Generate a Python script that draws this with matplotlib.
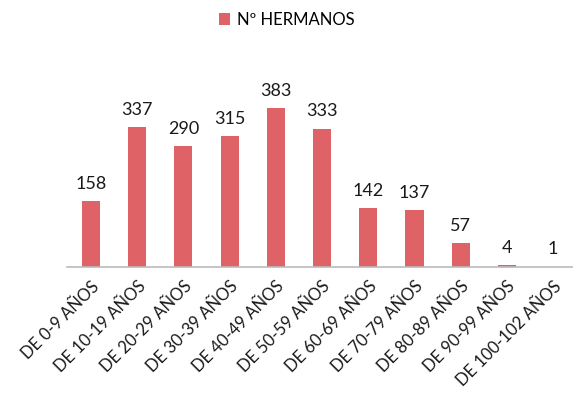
import matplotlib
matplotlib.use('Agg')
import matplotlib.pyplot as plt

categorias = ["DE 0-9 AÑOS", "DE 10-19 AÑOS", "DE 20-29 AÑOS", "DE 30-39 AÑOS",
              "DE 40-49 AÑOS", "DE 50-59 AÑOS", "DE 60-69 AÑOS", "DE 70-79 AÑOS",
              "DE 80-89 AÑOS", "DE 90-99 AÑOS", "DE 100-102 AÑOS"]
hermanos = [158, 337, 290, 315, 383, 333, 142, 137, 57, 4, 1]

plt.rcParams['font.family'] = ['Lato', 'DejaVu Sans']

fig = plt.figure(figsize=(5.73, 4.04), dpi=100)
ax = fig.add_axes([67 / 573, 137 / 404, 1 - 67 / 573, 187 / 404])

color = "#DE6266"
x = list(range(len(categorias)))
barras = ax.bar(x, hermanos, width=0.39, color=color, label="Nº HERMANOS")

# Etiquetas de valor encima de cada barra
for xi, v in zip(x, hermanos):
    ax.text(xi, v + 22, str(v), ha="center", va="bottom", fontsize=13, color="#1a1a1a")

ax.set_xlim(-0.52, 10.43)
ax.set_ylim(0, 450)
ax.set_yticks([])
ax.set_xticks(x)
ax.set_xticklabels(categorias, rotation=45, ha="right", rotation_mode="anchor",
                   fontsize=12, color="#1a1a1a")
ax.tick_params(axis="x", length=0, pad=8)
for s in ["top", "right", "left"]:
    ax.spines[s].set_visible(False)
ax.spines["bottom"].set_color("#BBBBBB")
ax.spines["bottom"].set_linewidth(1.2)

fig.legend(handles=[barras], loc="center", bbox_to_anchor=(0.5, 1 - 20 / 404),
           frameon=False, fontsize=12, handlelength=0.7, handleheight=0.7,
           handletextpad=0.4)

plt.savefig("out.png", dpi=100)
plt.close()
